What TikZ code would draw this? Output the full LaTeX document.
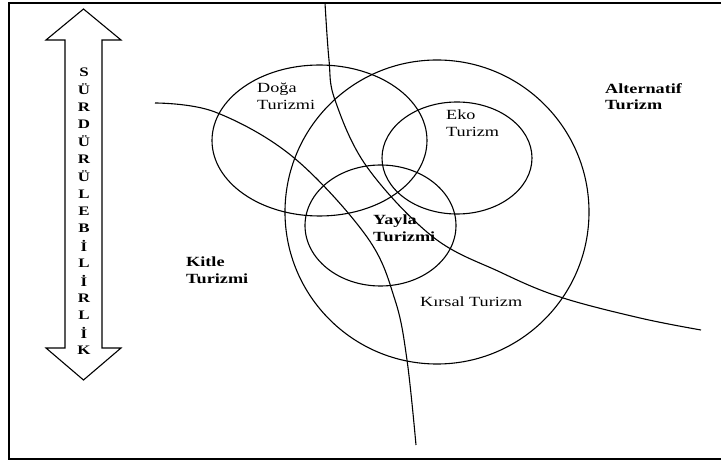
\documentclass[tikz,border=0pt]{standalone}
\usepackage{fontspec}
\setmainfont{Liberation Serif}[FakeStretch=1.3]
\usepackage{tikz}
\usetikzlibrary{positioning,calc}

\begin{document}
\begin{tikzpicture}[
    x=1pt, y=-1pt,
    ring/.style={draw,line width=1.1pt},
    lbl/.style={anchor=north west,inner sep=0pt,align=left,font=\fontsize{14}{16.5}\selectfont},
    blbl/.style={lbl,font=\fontsize{14}{16.5}\selectfont\bfseries},
    letter/.style={inner sep=0pt,font=\fontsize{13}{13}\selectfont\bfseries},
]
\useasboundingbox (0,0) rectangle (721,462);
% open frame
\draw[line width=1.8pt] (721,3) -- (9,3) -- (9,459) -- (721,459);

% double arrow
\draw[line width=1.1pt] (83.5,9) -- (121,40) -- (102,40) -- (102,348) -- (121,348)
    -- (83.5,380) -- (46,348) -- (65,348) -- (65,40) -- (46,40) -- cycle;
\foreach \ch [count=\i from 0] in {S,Ü,R,D,Ü,R,Ü,L,E,B,İ,L,İ,R,L,İ,K}
    \node[letter] (ch\i) at (84,72+17.4*\i) {\ch};

% circles
\draw[ring] (437,212) circle [radius=152];
\draw[ring] (319.5,140.5) ellipse [x radius=107.5, y radius=75.5];
\draw[ring] (457,158) ellipse [x radius=75, y radius=56];
\draw[ring] (380.5,225.5) ellipse [x radius=75.5, y radius=60.5];

% boundaries
\draw[ring] plot[smooth,tension=0.6] coordinates {(155,103) (215,112) (293,157) (367,237) (395,300) (407,360) (416,445)};
\draw[ring] plot[smooth,tension=0.6] coordinates {(325,3) (329,60) (335,100) (367,167) (433,237) (500,272) (560,297) (640,318) (701,330)};

\node[lbl] (doga) at (257,83) {Doğa\\Turizmi};
\node[lbl] (eko) at (446,110) {Eko\\Turizm};
\node[blbl] (yayla) at (373,215) {Yayla\\Turizmi};
\node[blbl] (kitle) at (186,257) {Kitle\\Turizmi};
\node[blbl] (alt) at (605,83) {Alternatif\\Turizm};
\node[lbl] (kirsal) at (420,297) {Kırsal Turizm};
\end{tikzpicture}
\end{document}
